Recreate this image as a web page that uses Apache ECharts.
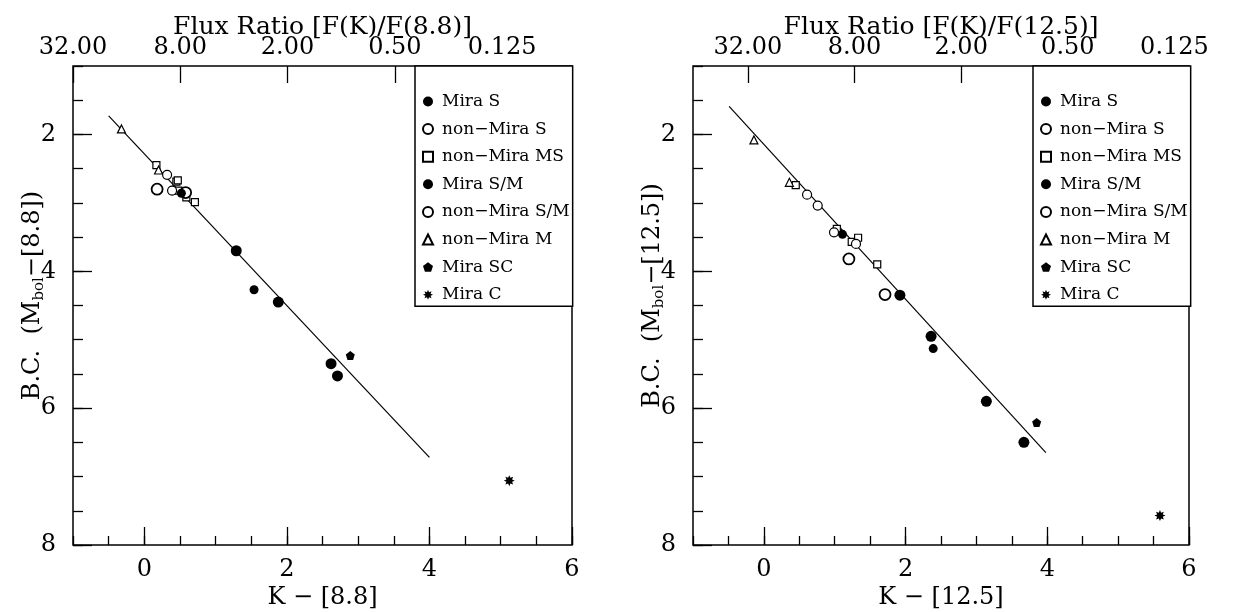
<!DOCTYPE html>
<html>
<head>
<meta charset="utf-8">
<script src="https://cdn.jsdelivr.net/npm/echarts@6/dist/echarts.min.js"></script>
<style>
  html,body{margin:0;padding:0;background:#fff;}
  #chartDiv{width:1241px;height:612px;}
</style>
</head>
<body>
<div id="chartDiv"></div>
<script>
// ---- data ----
var seriesNames = ['Mira S', 'non−Mira S', 'non−Mira MS', 'Mira S/M', 'non−Mira S/M', 'non−Mira M', 'Mira SC', 'Mira C'];
var fluxLabels = ['32.00', '8.00', '2.00', '0.50', '0.125'];
var fluxPosL = [-1.0, 0.505, 2.01, 3.515, 5.02];     // K-[8.8] of each flux label
var fluxPosR = [-0.225, 1.28, 2.785, 4.29, 5.795];   // K-[12.5] of each flux label
var xMajor = [0, 2, 4, 6];
var yMajor = [2, 4, 6, 8];

// left panel: K-[8.8] vs B.C.
var miraS_L = [[1.29,3.70],[1.88,4.45],[2.62,5.35],[2.71,5.53]];
var nonMiraS_L = [[0.18,2.80],[0.58,2.85]];
var nonMiraMS_L = [[0.17,2.45],[0.45,2.69],[0.47,2.67],[0.48,2.82],[0.59,2.92],[0.71,2.99]];
var miraSM_L = [[0.52,2.86],[1.54,4.27]];
var nonMiraSM_L = [[0.32,2.59],[0.39,2.82]];
var nonMiraM_L = [[-0.32,1.92],[0.20,2.52]];
var miraSC_L = [[2.89,5.23]];
var miraC_L = [[5.12,7.06]];
var fitL = [[-0.50,1.73],[4.00,6.72]];

// right panel: K-[12.5] vs B.C.
var miraS_R = [[1.92,4.35],[2.36,4.95],[3.14,5.90],[3.67,6.50]];
var nonMiraS_R = [[1.20,3.82],[1.71,4.34]];
var nonMiraMS_R = [[0.45,2.74],[1.03,3.38],[1.24,3.57],[1.33,3.51],[1.60,3.90]];
var miraSM_R = [[1.11,3.46],[2.39,5.13]];
var nonMiraSM_R = [[0.61,2.88],[0.76,3.04],[0.99,3.43],[1.30,3.60]];
var nonMiraM_R = [[-0.14,2.08],[0.36,2.70]];
var miraSC_R = [[3.85,6.21]];
var miraC_R = [[5.59,7.57]];
var fitR = [[-0.49,1.59],[3.98,6.65]];

var FONT = 'DejaVu Serif';
var pentagon = 'path://M0,-10 L9.51,-3.09 L5.88,8.09 L-5.88,8.09 L-9.51,-3.09 Z';
var asterisk = 'path://M0,-10 L2.1,-5.1 L7.07,-7.07 L5.1,-2.1 L10,0 L5.1,2.1 L7.07,7.07 L2.1,5.1 L0,10 L-2.1,5.1 L-7.07,7.07 L-5.1,2.1 L-10,0 L-5.1,-2.1 L-7.07,-7.07 L-2.1,-5.1 Z';

// symbol style for each class
var styles = {
  'Mira S':       {symbol:'circle', size:11, fill:'#000', bw:0},
  'non−Mira S':   {symbol:'circle', size:11, fill:'#fff', bw:1.8},
  'non−Mira MS':  {symbol:'rect', size:7, fill:'#fff', bw:1.2},
  'Mira S/M':     {symbol:'circle', size:9, fill:'#000', bw:0},
  'non−Mira S/M': {symbol:'circle', size:9, fill:'#fff', bw:1.2},
  'non−Mira M':   {symbol:'triangle', size:8, fill:'#fff', bw:1.2},
  'Mira SC':      {symbol:pentagon, size:9, fill:'#000', bw:0},
  'Mira C':       {symbol:asterisk, size:11, fill:'#000', bw:0}
};

function sc(name, data, gi){
  var s = styles[name];
  return {
    name: name, type: 'scatter', xAxisIndex: gi*3, yAxisIndex: gi*2,
    data: data, symbol: s.symbol, symbolSize: s.size, z: 3,
    itemStyle: {color: s.fill, borderColor: '#000', borderWidth: s.bw, opacity: 1}
  };
}
function fit(data, gi){
  return {
    name: 'fit', type: 'line', xAxisIndex: gi*3, yAxisIndex: gi*2, data: data,
    symbol: 'none', lineStyle: {color: '#000', width: 1.2}, z: 2, silent: true
  };
}
function fluxFmt(pos){
  return function(v){
    for (var i = 0; i < pos.length; i++) {
      if (Math.abs(pos[i] - v) < 1e-6) return fluxLabels[i];
    }
    return '';
  };
}

var noLine = {show: false, onZero: false};
function panelAxes(gi, band, fluxPos){
  var minorX = {
    gridIndex: gi*2, type: 'value', position: 'bottom', min: -1, max: 6, interval: 0.5,
    axisLine: noLine, splitLine: {show: false}, axisLabel: {show: false},
    axisTick: {inside: true, length: 9, lineStyle: {color: '#000', width: 1.3}}
  };
  var topX = {
    gridIndex: gi*2, type: 'value', position: 'top', min: -1, max: 6,
    axisLine: noLine, splitLine: {show: false},
    axisTick: {inside: true, length: 17, customValues: fluxPos, lineStyle: {color: '#000', width: 1.3}},
    axisLabel: {customValues: fluxPos, formatter: fluxFmt(fluxPos), color: '#000', fontFamily: FONT, fontSize: 24, margin: 6, showMinLabel: true, showMaxLabel: true},
    name: 'Flux Ratio [F(K)/F(' + band + ')]', nameLocation: 'middle', nameGap: 26, nameMoveOverlap: false,
    nameTextStyle: {color: '#000', fontFamily: FONT, fontSize: 25}
  };
  var majorX = {
    gridIndex: gi*2 + 1, type: 'value', position: 'bottom', min: -1, max: 6,
    axisLine: noLine, splitLine: {show: false},
    axisTick: {inside: true, length: 18, customValues: xMajor, lineStyle: {color: '#000', width: 1.3}},
    axisLabel: {customValues: xMajor, color: '#000', fontFamily: FONT, fontSize: 24, margin: 13},
    name: 'K − [' + band + ']', nameLocation: 'middle', nameGap: 41, nameMoveOverlap: false,
    nameTextStyle: {color: '#000', fontFamily: FONT, fontSize: 24}
  };
  var minorY = {
    gridIndex: gi*2, type: 'value', position: 'left', min: 1, max: 8, inverse: true, interval: 0.5,
    axisLine: noLine, splitLine: {show: false}, axisLabel: {show: false},
    axisTick: {inside: true, length: 10, lineStyle: {color: '#000', width: 1.3}}
  };
  var majorY = {
    gridIndex: gi*2 + 1, type: 'value', position: 'left', min: 1, max: 8, inverse: true,
    axisLine: noLine, splitLine: {show: false},
    axisTick: {inside: true, length: 19, customValues: yMajor, lineStyle: {color: '#000', width: 1.3}},
    axisLabel: {customValues: yMajor, color: '#000', fontFamily: FONT, fontSize: 24, margin: 17},
    name: 'B.C.  (M{sub|bol}−[' + band + '])', nameLocation: 'middle', nameGap: 26, nameRotate: 90, nameMoveOverlap: false,
    nameTextStyle: {color: '#000', fontFamily: FONT, fontSize: 24, padding: [0, 0, 0, 20],
      rich: {sub: {fontFamily: FONT, fontSize: 15, color: '#000', padding: [14, 0, 0, 0]}}}
  };
  return {x: [minorX, topX, majorX], y: [minorY, majorY]};
}

var aL = panelAxes(0, '8.8', fluxPosL);
var aR = panelAxes(1, '12.5', fluxPosR);

function legendAt(left){
  return {
    left: left, top: 66, orient: 'vertical', data: seriesNames, selectedMode: false,
    itemWidth: 10, itemHeight: 10, itemGap: 10.6,
    padding: [27, 3, 3, 7], borderColor: '#000', borderWidth: 1.5, backgroundColor: '#fff',
    textStyle: {color: '#000', fontFamily: FONT, fontSize: 17, padding: [0, 0, 0, 4]}
  };
}

function gridAt(left, width, show){
  return {left: left, top: 66, width: width, height: 479, show: show, borderColor: '#000', borderWidth: 1.5,
    containLabel: false, outerBoundsMode: 'none'};
}

option = {
  animation: false,
  backgroundColor: '#fff',
  grid: [gridAt(73, 499, true), gridAt(73, 499, false), gridAt(693, 496, true), gridAt(693, 496, false)],
  xAxis: aL.x.concat(aR.x),
  yAxis: aL.y.concat(aR.y),
  legend: [legendAt(415), legendAt(1033)],
  series: [
    fit(fitL, 0),
    sc('non−Mira MS', nonMiraMS_L, 0),
    sc('non−Mira M', nonMiraM_L, 0),
    sc('non−Mira S/M', nonMiraSM_L, 0),
    sc('non−Mira S', nonMiraS_L, 0),
    sc('Mira S', miraS_L, 0),
    sc('Mira S/M', miraSM_L, 0),
    sc('Mira SC', miraSC_L, 0),
    sc('Mira C', miraC_L, 0),
    fit(fitR, 1),
    sc('non−Mira MS', nonMiraMS_R, 1),
    sc('non−Mira M', nonMiraM_R, 1),
    sc('non−Mira S/M', nonMiraSM_R, 1),
    sc('non−Mira S', nonMiraS_R, 1),
    sc('Mira S', miraS_R, 1),
    sc('Mira S/M', miraSM_R, 1),
    sc('Mira SC', miraSC_R, 1),
    sc('Mira C', miraC_R, 1)
  ]
};

var myCharts1 = echarts.init(document.getElementById('chartDiv'));
myCharts1.setOption(option, true);
</script>
</body>
</html>
